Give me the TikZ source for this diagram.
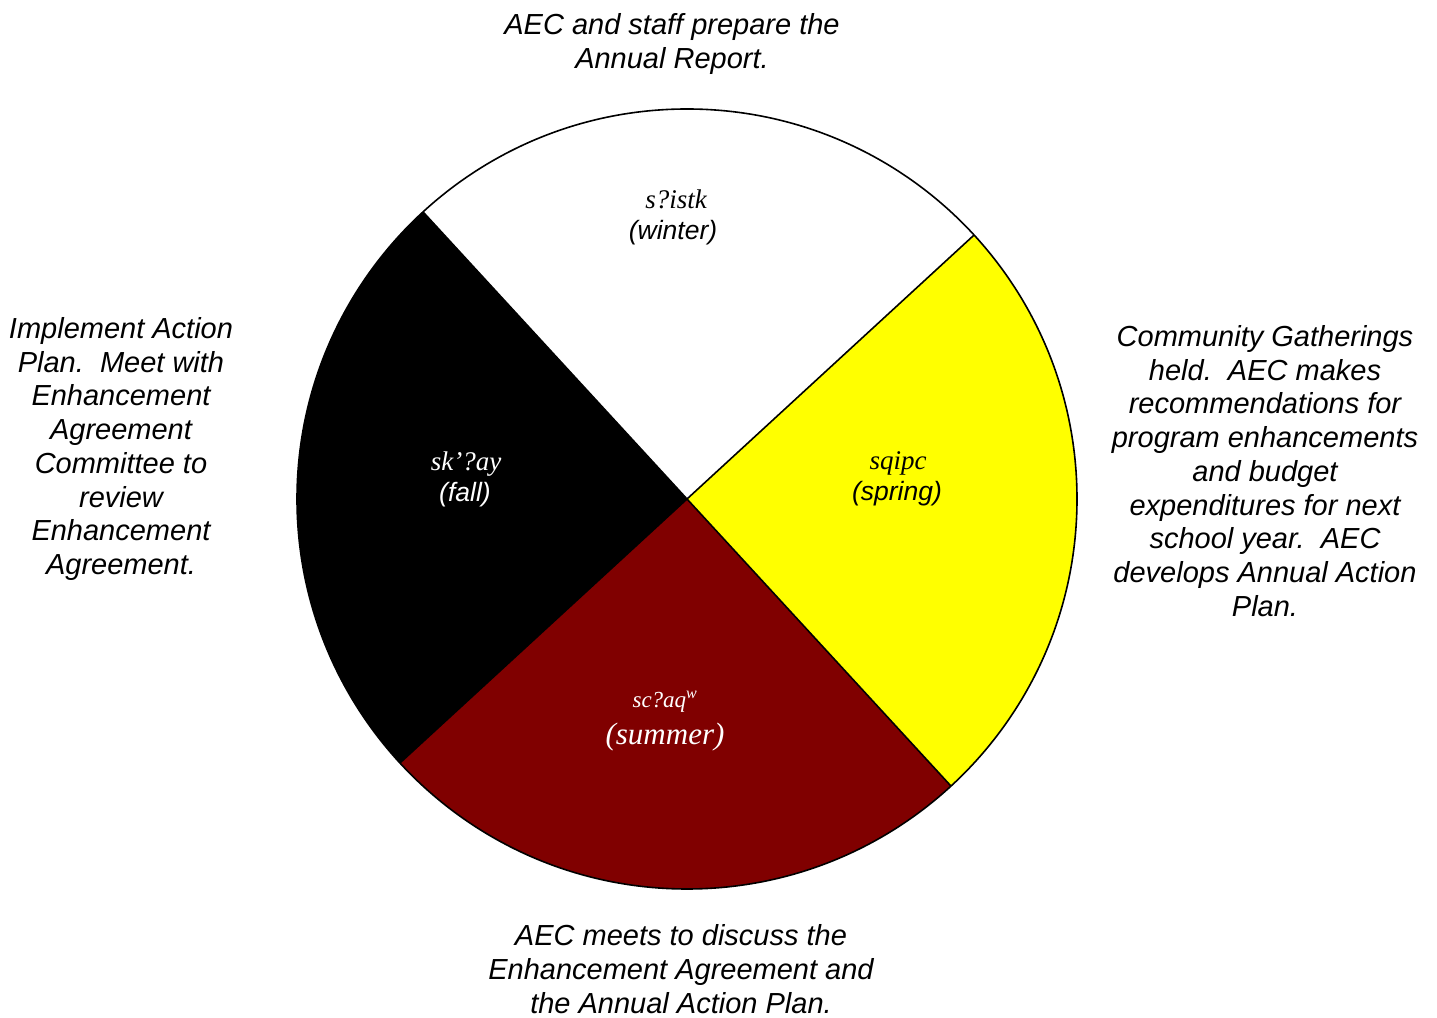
\documentclass[tikz,border=0pt]{standalone}
\usepackage{fontspec}
\setmainfont{Liberation Serif}
\setsansfont{Liberation Sans}
\definecolor{maroonc}{HTML}{800000}
\definecolor{yellowc}{HTML}{FFFF00}
\tikzset{
  sector/.style={draw=black, line width=1.6pt},
  desc/.style={align=center, inner sep=0pt, font=\sffamily\itshape\fontsize{29}{33.7}\selectfont},
  salish/.style={align=center, inner sep=0pt, font=\rmfamily\itshape\fontsize{27}{30}\selectfont},
  season/.style={align=center, inner sep=0pt, font=\sffamily\itshape\fontsize{26.5}{30}\selectfont},
}
\begin{document}
\begin{tikzpicture}[x=1pt,y=1pt]
\useasboundingbox (0,0) rectangle (1437,1017);
\coordinate (C) at (687,518);
\fill[yellowc] (C) -- ++(312.6:390) arc[start angle=312.6, end angle=402.6, radius=390] -- cycle;
\fill[white] (C) -- ++(42.6:390) arc[start angle=42.6, end angle=132.6, radius=390] -- cycle;
\fill[black] (C) -- ++(132.6:390) arc[start angle=132.6, end angle=222.6, radius=390] -- cycle;
\fill[maroonc] (C) -- ++(222.6:390) arc[start angle=222.6, end angle=312.6, radius=390] -- cycle;
\draw[sector] (C) -- ++(42.6:390);
\draw[sector] (C) -- ++(132.6:390);
\draw[sector] (C) -- ++(222.6:390);
\draw[sector] (C) -- ++(312.6:390);
\draw[sector] (C) circle[radius=390];

% season labels
\node[salish] (winS) at (676,818) {s?istk};
\node[season] (winE) at (673,784) {(winter)};
\node[salish, text=white] (fallS) at (466,553) {sk’?ay};
\node[season, text=white] (fallE) at (465,522) {(fall)};
\node[salish] (sprS) at (898,554) {sqipc};
\node[season] (sprE) at (897,523) {(spring)};
\node[salish, text=white, font=\rmfamily\itshape\fontsize{23}{26}\selectfont] (sumS) at (665,315) {sc?aq\textsuperscript{w}};
\node[salish, text=white, font=\rmfamily\itshape\fontsize{31}{34}\selectfont] (sumE) at (665,280) {(summer)};

% descriptions
\node[desc] (top) at (672,973) {AEC and staff prepare the\\Annual Report.};
\node[desc] (left) at (121,568) {Implement Action\\Plan.\ \ Meet with\\Enhancement\\Agreement\\Committee to\\review\\Enhancement\\Agreement.};
\node[desc] (right) at (1265,546) {Community Gatherings\\held.\ \ AEC makes\\recommendations for\\program enhancements\\and budget\\expenditures for next\\school year.\ \ AEC\\develops Annual Action\\Plan.};
\node[desc] (bottom) at (681,048) {AEC meets to discuss the\\Enhancement Agreement and\\the Annual Action Plan.};
\end{tikzpicture}
\end{document}
